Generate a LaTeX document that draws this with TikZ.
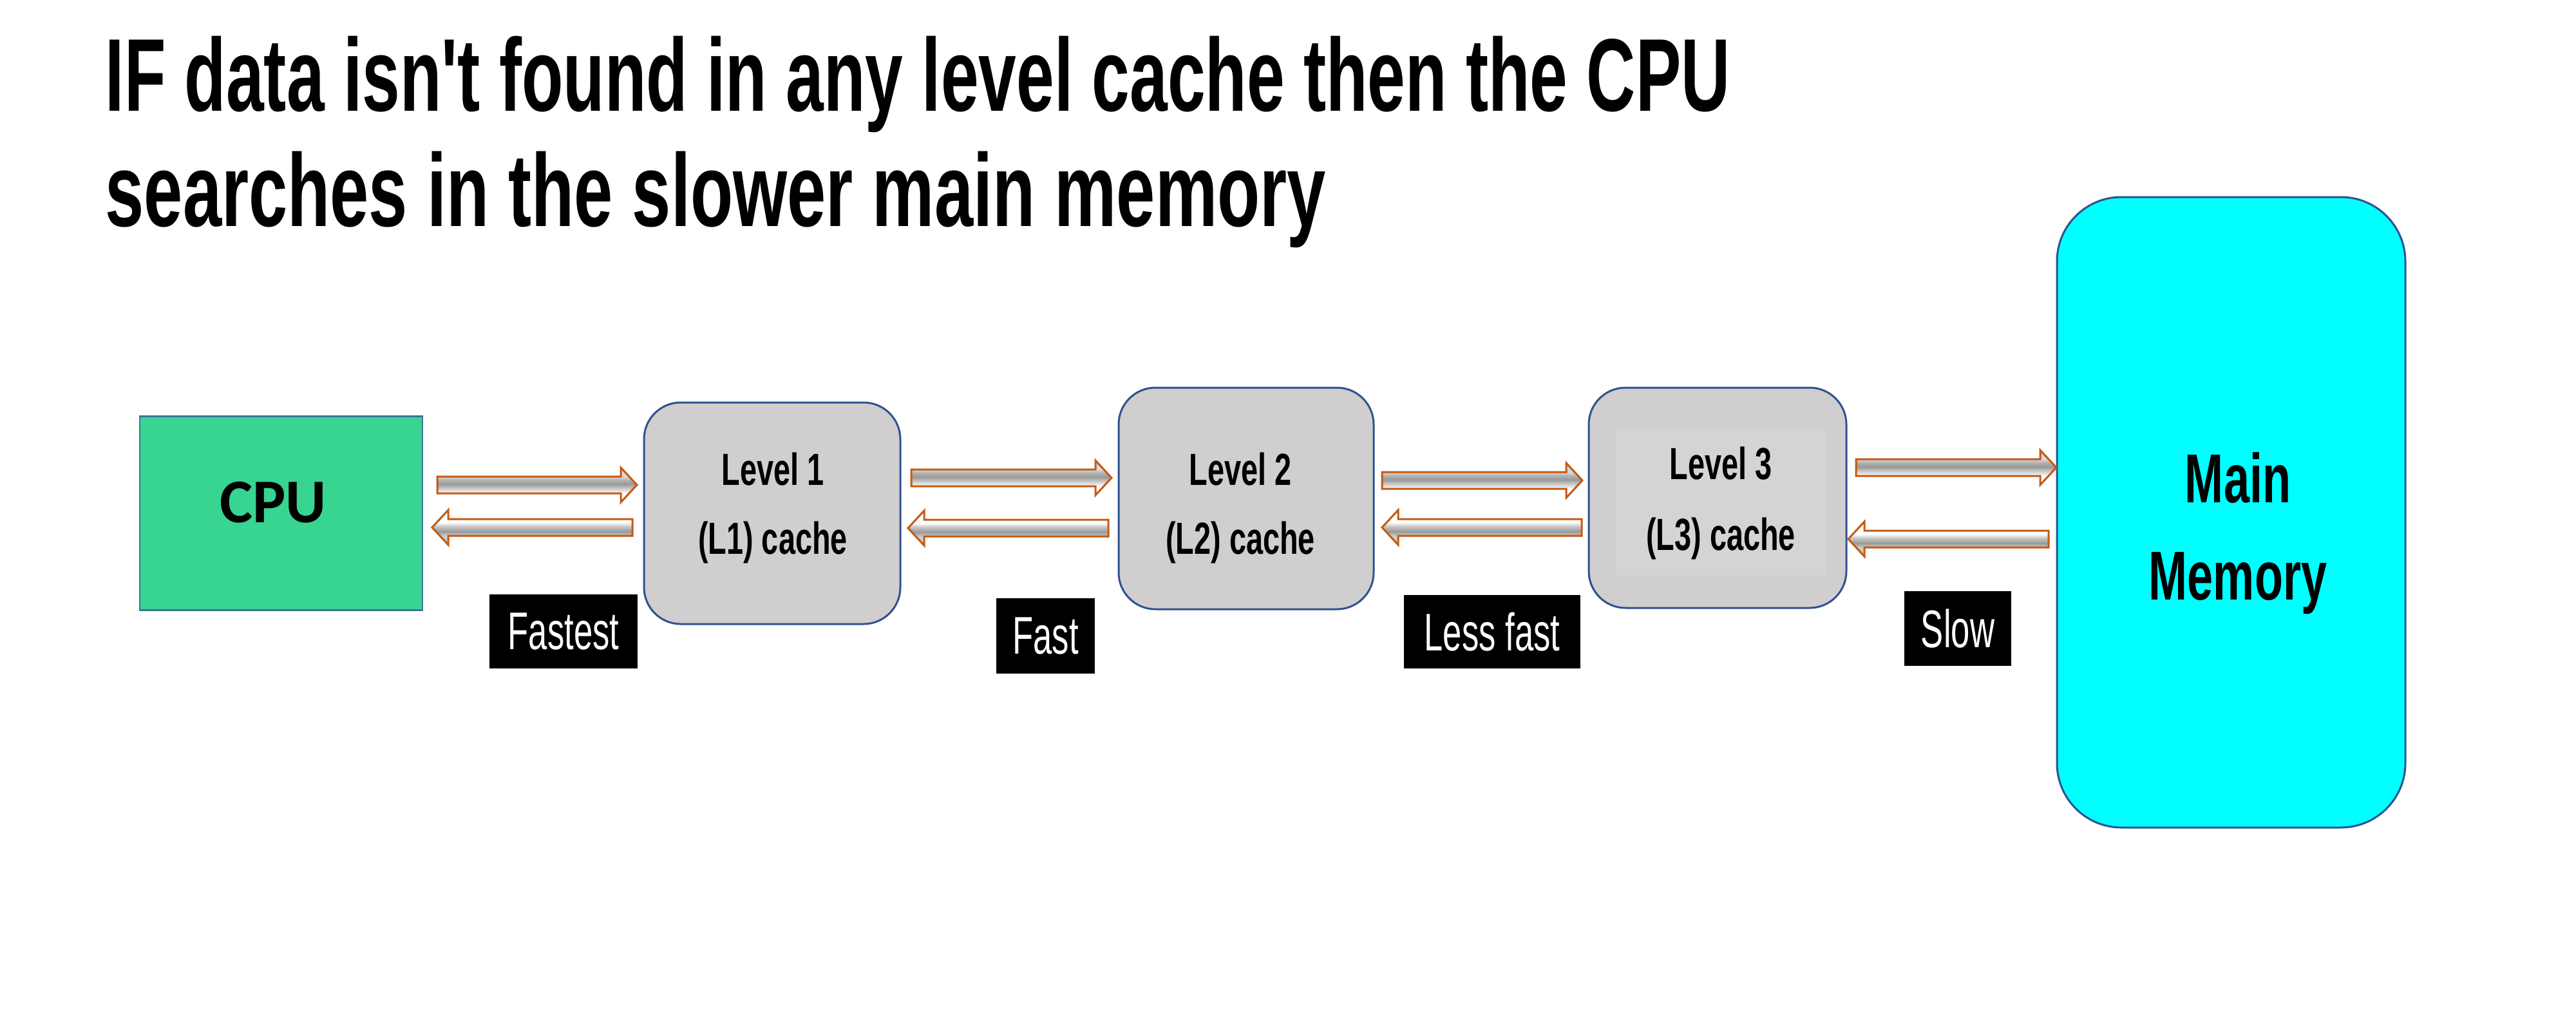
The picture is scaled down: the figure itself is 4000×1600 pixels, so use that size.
\documentclass[tikz,border=0pt]{standalone}
\usepackage{fontspec}
\setmainfont{Liberation Sans}
\newfontfamily\agbold[FakeStretch=0.67]{Liberation Sans}
\newfontfamily\agtitlea[FakeStretch=0.657]{Liberation Sans}
\newfontfamily\agtitleb[FakeStretch=0.674]{Liberation Sans}
\newfontfamily\agreg[FakeStretch=0.64]{Liberation Sans}
\newfontfamily\carlito{Carlito}
\usetikzlibrary{calc}
\definecolor{cpug}{HTML}{37D492}
\definecolor{cpub}{HTML}{41719C}
\definecolor{boxb}{HTML}{2F528F}
\definecolor{cacheg}{HTML}{D0CECE}
\definecolor{lthreein}{HTML}{D5D3D3}
\definecolor{memc}{HTML}{00FFFF}
\definecolor{arrc}{HTML}{C55A11}
\pgfdeclareverticalshading{rshade}{100bp}{color(0bp)=(white); color(38bp)=(white); color(43bp)=(gray!30); color(51bp)=(gray!80); color(57bp)=(gray!60); color(62bp)=(gray!30); color(100bp)=(gray!30)}
\pgfdeclareverticalshading{lshade}{100bp}{color(0bp)=(gray!40); color(38bp)=(gray!40); color(44bp)=(gray!80); color(52bp)=(gray!40); color(57bp)=(white); color(100bp)=(white)}
\tikzset{
  titletext/.style={anchor=base west, inner sep=0pt},
  cachebox/.style={draw=boxb, line width=0.85pt, fill=cacheg, rounded corners=5.7mm, minimum width=39.8mm, minimum height=34.4mm, inner sep=0pt},
  lvltext/.style={anchor=base, inner sep=0pt, font=\agbold\bfseries\fontsize{19.9}{24}\selectfont},
  memtext/.style={anchor=base, inner sep=0pt, font=\agbold\bfseries\fontsize{30.6}{36}\selectfont},
  speedlab/.style={fill=black, text=white, inner sep=0pt, font=\agreg\fontsize{23.4}{28}\selectfont},
  rblock/.style={draw=arrc, line width=0.85pt, shade, shading=rshade,
    to path={let \p1=(\tikztostart), \p2=(\tikztotarget) in
      (\x1,\y1+1.3mm) -- (\x2-2.5mm,\y1+1.3mm) -- (\x2-2.5mm,\y1+2.7mm) -- (\x2,\y1)
      -- (\x2-2.5mm,\y1-2.7mm) -- (\x2-2.5mm,\y1-1.3mm) -- (\x1,\y1-1.3mm) -- cycle}},
  lblock/.style={draw=arrc, line width=0.85pt, shade, shading=lshade,
    to path={let \p1=(\tikztostart), \p2=(\tikztotarget) in
      (\x1,\y1+1.3mm) -- (\x2+2.5mm,\y1+1.3mm) -- (\x2+2.5mm,\y1+2.7mm) -- (\x2,\y1)
      -- (\x2+2.5mm,\y1-2.7mm) -- (\x2+2.5mm,\y1-1.3mm) -- (\x1,\y1-1.3mm) -- cycle}},
}
\begin{document}
\begin{tikzpicture}[x=0.1mm,y=-0.1mm]
\fill[white] (0,0) rectangle (4000,1600);
\useasboundingbox (0,0) rectangle (4000,1600);

% title
\node[titletext, font=\agtitlea\bfseries\fontsize{45.7}{50}\selectfont] (t1) at (163,172) {IF data isn't found in any level cache then the CPU};
\node[titletext, font=\agtitleb\bfseries\fontsize{45.7}{50}\selectfont] (t2) at (163,351) {searches in the slower main memory};

% CPU
\node[draw=cpub, line width=0.85pt, fill=cpug, minimum width=43.9mm, minimum height=30.1mm, inner sep=0pt] (cpu) at (436.5,796.5) {};
\node[anchor=base, inner sep=0pt, font=\carlito\bfseries\fontsize{27.5}{32}\selectfont] (cput) at (424,811) {CPU};

% caches
\node[cachebox] (l1) at (1199,797) {};
\node[lvltext] (l1a) at (1200,753) {Level 1};
\node[lvltext] (l1b) at (1200,860) {(L1) cache};

\node[cachebox, minimum width=39.6mm] (l2) at (1935,774) {};
\node[lvltext] (l2a) at (1926,753) {Level 2};
\node[lvltext] (l2b) at (1926,860) {(L2) cache};

\node[cachebox, minimum width=40mm, minimum height=34.2mm] (l3) at (2667,773) {};
\node[fill=lthreein, minimum width=32.6mm, minimum height=22.8mm, inner sep=0pt] (l3in) at (2672,780) {};
\node[lvltext] (l3a) at (2672,744) {Level 3};
\node[lvltext] (l3b) at (2672,854) {(L3) cache};

% main memory
\node[draw=boxb, line width=0.85pt, fill=memc, rounded corners=10mm, minimum width=54.1mm, minimum height=97.9mm, inner sep=0pt] (mem) at (3464.5,795.5) {};
\node[memtext] (mema) at (3475,780) {Main};
\node[memtext] (memb) at (3475,931) {Memory};

% speed labels
\node[speedlab, minimum width=23mm, minimum height=11.5mm] (s1) at (875,980.5) {Fastest};
\node[speedlab, minimum width=15.3mm, minimum height=11.7mm] (s2) at (1623.5,987.5) {Fast};
\node[speedlab, minimum width=27.4mm, minimum height=11.4mm] (s3) at (2317,981) {Less fast};
\node[speedlab, minimum width=16.6mm, minimum height=11.6mm] (s4) at (3040,976) {Slow};

% arrow end points
\coordinate (a1s) at (679,753);  \coordinate (a1e) at (989,753);
\coordinate (a2s) at (982,819);  \coordinate (a2e) at (671,819);
\coordinate (a3s) at (1415,742); \coordinate (a3e) at (1726,742);
\coordinate (a4s) at (1721,820); \coordinate (a4e) at (1410,820);
\coordinate (a5s) at (2146,746); \coordinate (a5e) at (2457,746);
\coordinate (a6s) at (2456,819); \coordinate (a6e) at (2146,819);
\coordinate (a7s) at (2882,726); \coordinate (a7e) at (3193,726);
\coordinate (a8s) at (3181,837); \coordinate (a8e) at (2870,837);

\path[rblock] (a1s) to (a1e);
\path[lblock] (a2s) to (a2e);
\path[rblock] (a3s) to (a3e);
\path[lblock] (a4s) to (a4e);
\path[rblock] (a5s) to (a5e);
\path[lblock] (a6s) to (a6e);
\path[rblock] (a7s) to (a7e);
\path[lblock] (a8s) to (a8e);
\end{tikzpicture}
\end{document}
